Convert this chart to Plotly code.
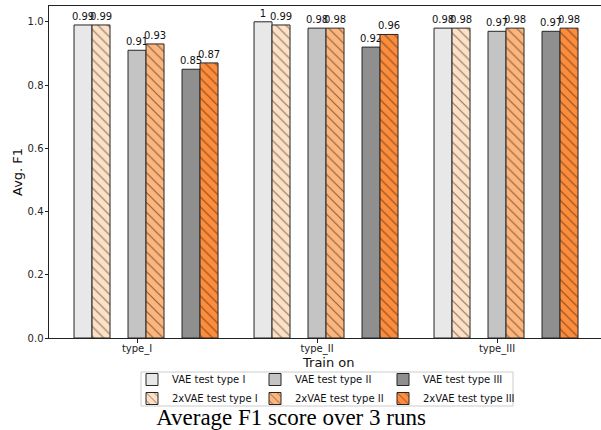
import plotly.graph_objects as go

# ---- data ----
categories = ["type_I", "type_II", "type_III"]
vae_type_I = [0.99, 1.0, 0.98]
vae2x_type_I = [0.99, 0.99, 0.98]
vae_type_II = [0.91, 0.98, 0.97]
vae2x_type_II = [0.93, 0.98, 0.98]
vae_type_III = [0.85, 0.92, 0.97]
vae2x_type_III = [0.87, 0.96, 0.98]

series_names = ["VAE test type I", "2xVAE test type I",
                "VAE test type II", "2xVAE test type II",
                "VAE test type III", "2xVAE test type III"]
series_values = [vae_type_I, vae2x_type_I, vae_type_II, vae2x_type_II,
                 vae_type_III, vae2x_type_III]

# ---- style ----
colors = ["#e8e8e8", "#fee0c4", "#c4c4c4", "#fdb57c", "#8f8f8f", "#fd8c3b"]
hatched = [False, True, False, True, False, True]
offsets = [-0.3, -0.2, 0.0, 0.1, 0.3, 0.4]
legend_ids = ["legend", "legend", "legend2", "legend2", "legend3", "legend3"]
bar_w = 0.1
FONT = "DejaVu Sans"

fig = go.Figure()
xs_base = list(range(len(categories)))
for name, vals, col, h, off, lg in zip(series_names, series_values, colors,
                                       hatched, offsets, legend_ids):
    marker = dict(color=col, line=dict(color="#262626", width=1))
    if h:
        marker["pattern"] = dict(shape="\\", size=7, solidity=0.17,
                                 fgcolor="#111111", bgcolor=col,
                                 fillmode="overlay")
    fig.add_trace(go.Bar(
        x=[x + off for x in xs_base], y=vals, width=bar_w, name=name,
        marker=marker, legend=lg,
        text=[f"{v:g}" for v in vals], texttemplate="%{text}",
        textposition="outside",
        textfont=dict(family=FONT, size=10, color="#111"),
        constraintext="none", cliponaxis=False,
    ))

W, H = 601, 430
L, R, T, B = 49, 0, 6, 92

fig.update_layout(
    width=W, height=H,
    margin=dict(l=L, r=R, t=T, b=B, autoexpand=False),
    barmode="overlay",
    plot_bgcolor="white", paper_bgcolor="white",
    font=dict(family=FONT, size=10, color="#111"),
    title=dict(text="Average F1 score over 3 runs",
               font=dict(family="Liberation Serif", size=23, color="#000"),
               x=291 / W, xref="container", xanchor="center",
               y=1 - 417 / H, yref="container", yanchor="middle"),
    xaxis=dict(range=[-0.489, -0.489 + (W - L) / 180.0],
               tickvals=xs_base, ticktext=categories,
               ticks="outside", ticklen=3.5, tickcolor="#222",
               ticklabelstandoff=-3,
               showline=True, linecolor="#222", linewidth=1, mirror=True,
               showgrid=False, zeroline=False, automargin=False,
               tickfont=dict(family=FONT, size=10, color="#222")),
    yaxis=dict(range=[0, 1.05], tickvals=[0, 0.2, 0.4, 0.6, 0.8, 1.0],
               tickformat=".1f",
               ticks="outside", ticklen=3.5, tickcolor="#222",
               ticklabelstandoff=-1,
               showline=True, linecolor="#222", linewidth=1, mirror=False,
               showgrid=False, zeroline=False, automargin=False,
               tickfont=dict(family=FONT, size=10, color="#222")),
    showlegend=True,
)

# axis titles
fig.add_annotation(text="Train on", xref="paper", yref="paper",
                   x=(328 - L) / (W - L - R), y=-(362 - (H - B)) / (H - T - B),
                   showarrow=False, xanchor="center", yanchor="middle",
                   font=dict(family=FONT, size=13, color="#111"))
fig.add_annotation(text="Avg. F1", xref="paper", yref="paper",
                   x=-(L - 17) / (W - L - R), y=0.5, textangle=-90,
                   showarrow=False, xanchor="center", yanchor="middle",
                   font=dict(family=FONT, size=13, color="#111"))

leg_common = dict(orientation="v", xref="container", yref="container",
                  xanchor="left", yanchor="top",
                  bgcolor="rgba(0,0,0,0)", borderwidth=0,
                  font=dict(family=FONT, size=10, color="#111"),
                  itemwidth=30, tracegroupgap=0)
leg_y = 1 - 365 / H
fig.update_layout(
    legend=dict(x=132 / W, y=leg_y, **leg_common),
    legend2=dict(x=255 / W, y=leg_y, **leg_common),
    legend3=dict(x=383 / W, y=leg_y, **leg_common),
)

# frame around the combined legend
fig.add_shape(type="rect", xref="paper", yref="paper",
              x0=(141 - L) / (W - L - R), x1=(513 - L) / (W - L - R),
              y0=-(406 - (H - B)) / (H - T - B), y1=-(372 - (H - B)) / (H - T - B),
              line=dict(color="#cccccc", width=1), fillcolor="rgba(255,255,255,0)",
              layer="above")

fig.write_html("out.html", config={"displayModeBar": False},
               post_script="document.body.style.margin='0';document.body.style.overflow='hidden';")
